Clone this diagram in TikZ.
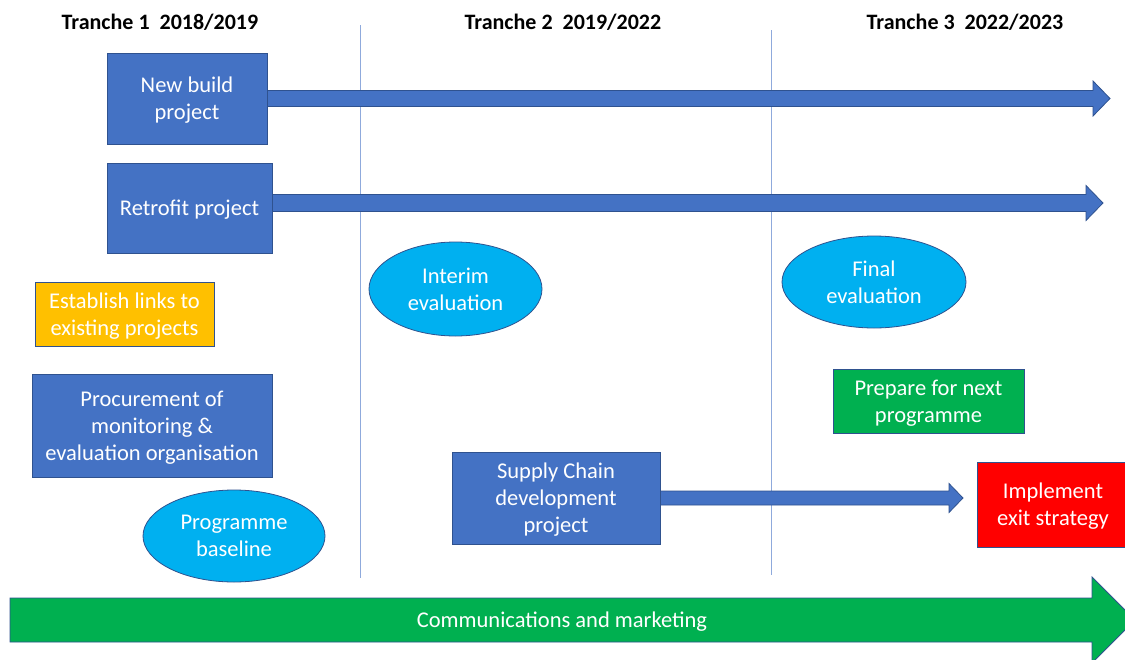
\documentclass[tikz,border=0pt]{standalone}
\usepackage{fontspec}
\setmainfont{Carlito}
\usetikzlibrary{calc,shapes.geometric}
\definecolor{obl}{HTML}{4472C4}
\definecolor{bord}{HTML}{2F528F}
\definecolor{cyanell}{HTML}{00B0F0}
\definecolor{ogreen}{HTML}{00B050}
\definecolor{ored}{HTML}{FF0000}
\definecolor{ogold}{HTML}{FFC000}
\definecolor{vline}{HTML}{8FAADC}
\newcommand\mkarrow[6]{\draw[#1] let \p1=(#2), \p2=(#3) in (\x1,\y1+#4) -- (\x2-#6,\y1+#4) -- (\x2-#6,\y1+#5) -- (\x2,\y1) -- (\x2-#6,\y1-#5) -- (\x2-#6,\y1-#4) -- (\x1,\y1-#4) -- cycle;}
\begin{document}
\begin{tikzpicture}[x=1pt,y=-1pt,
  every node/.style={font=\fontsize{22.5}{27}\selectfont, text=white, align=center},
  box/.style={draw=bord, line width=0.8pt, fill=obl, inner sep=0pt, text depth=0pt},
  ell/.style={ellipse, draw=bord, line width=0.8pt, fill=cyanell, inner sep=0pt, text depth=0pt},
  title/.style={text=black, font=\fontsize{22}{27}\selectfont\bfseries},
  sep/.style={draw=vline, line width=0.8pt},
  barrow/.style={fill=obl, draw=bord, line width=0.8pt},
  garrow/.style={fill=ogreen, draw=bord, line width=0.8pt}]
\useasboundingbox[fill=white] (0,0) rectangle (1125,659);
\clip (0,0) rectangle (1125,659);
% titles
\node[title] (t1) at (160,22) {Tranche 1\ \ 2018/2019};
\node[title] (t2) at (563,22) {Tranche 2\ \ 2019/2022};
\node[title] (t3) at (965,22) {Tranche 3\ \ 2022/2023};
% separators
\coordinate (s1a) at (360,25); \coordinate (s1b) at (360,578);
\coordinate (s2a) at (771,30); \coordinate (s2b) at (771,575);
\draw[sep] (s1a) -- (s1b);
\draw[sep] (s2a) -- (s2b);
% boxes
\node[box, minimum width=160pt, minimum height=91pt] (nb) at (187,98.5) {New build\\project};
\node[box, minimum width=165pt, minimum height=90pt] (rp) at (189.5,208) {Retrofit project};
\node[box, fill=ogold, minimum width=179pt, minimum height=64pt] (el) at (124.5,314) {Establish links to\\existing projects};
\node[box, minimum width=240pt, minimum height=103pt] (pm) at (152,425.5) {Procurement of\\monitoring \&\\evaluation organisation};
\node[ell, minimum width=182pt, minimum height=92pt] (pb) at (234,536) {Programme\\baseline};
\node[ell, minimum width=173pt, minimum height=94pt] (ie) at (455.5,289) {Interim\\evaluation};
\node[ell, minimum width=184pt, minimum height=92pt] (fe) at (874,282) {Final\\evaluation};
\node[box, fill=ogreen, minimum width=191pt, minimum height=64pt] (pn) at (928.5,401) {Prepare for next\\programme};
\node[box, minimum width=208pt, minimum height=92pt] (sc) at (556,498) {Supply Chain\\development\\project};
\node[box, fill=ored, minimum width=152pt, minimum height=85pt] (ix) at (1053,504.5) {Implement\\exit strategy};
% arrows
\coordinate (nbT) at (1110,100);
\coordinate (rpS) at ($(rp.east)+(0,-5)$);
\coordinate (rpT) at (1103,203);
\coordinate (scT) at (963,500);
\coordinate (cmS) at (10,620);
\coordinate (cmT) at (1135,620);
\mkarrow{barrow}{nb.east}{nbT}{8pt}{17.5pt}{17pt}
\mkarrow{barrow}{rpS}{rpT}{8.5pt}{17.5pt}{17pt}
\mkarrow{barrow}{sc.east}{scT}{7pt}{14.5pt}{14pt}
\mkarrow{garrow}{cmS}{cmT}{22pt}{43pt}{43pt}
\node[text depth=0pt] (cm) at (562,620) {Communications and marketing};
\end{tikzpicture}
\end{document}
